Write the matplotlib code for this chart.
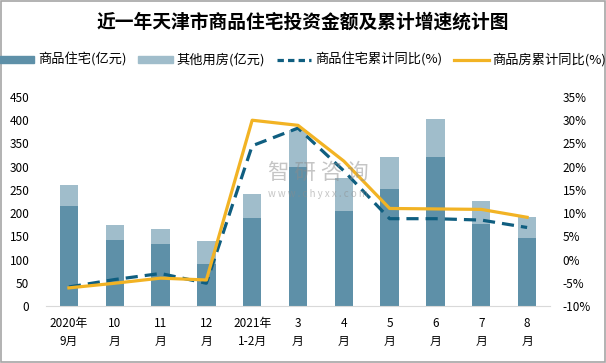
import numpy as np
import matplotlib
matplotlib.use('Agg')
import matplotlib.pyplot as plt
from matplotlib.patches import Rectangle
from matplotlib.lines import Line2D
from matplotlib.patches import Patch

plt.rcParams['font.family'] = ['Noto Sans CJK SC', 'DejaVu Sans']

months = ['2020年\n9月', '10\n月', '11\n月', '12\n月', '2021年\n1-2月', '3\n月',
          '4\n月', '5\n月', '6\n月', '7\n月', '8\n月']
residential = [216, 142, 134, 91, 190, 300, 205, 252, 321, 177, 146]
other = [44, 33, 32, 49, 51, 78, 70, 68, 82, 49, 46]
res_growth = [-5.9, -4.3, -3.0, -5.1, 24.5, 28.3, 19.1, 8.8, 8.8, 8.5, 6.9]
house_growth = [-6.1, -5.1, -4.0, -4.4, 30.0, 28.9, 21.2, 11.0, 10.9, 10.8, 9.1]

dark = '#5E90A8'
light = '#A0BDCB'
navy = '#0F5E80'
gold = '#F2B324'

fig = plt.figure(figsize=(6.06, 3.63), dpi=100)
ax = fig.add_axes([46/606, 57/363, 504/606, 209/363])
x = np.arange(len(months))

ax.bar(x, residential, width=0.4, color=dark, zorder=2)
ax.bar(x, other, width=0.4, bottom=residential, color=light, zorder=2)
ax.set_xlim(-0.5, len(months) - 0.5)
ax.set_ylim(0, 450)
ax.set_yticks(range(0, 451, 50))
ax.set_xticks(x)
ax.set_xticklabels(months, linespacing=1.45)
ax.tick_params(axis='x', length=0, pad=8, labelsize=8.5)
ax.tick_params(axis='y', length=0, pad=12, labelsize=8.5)
for s in ['top', 'right', 'left']:
    ax.spines[s].set_visible(False)
ax.spines['bottom'].set_color('#D9D9D9')

ax2 = ax.twinx()
ax2.plot(x, res_growth, color=navy, lw=2.3, ls=(0, (3.8, 2.2)), zorder=3)
ax2.plot(x, house_growth, color=gold, lw=2.3, zorder=3)
ax2.set_ylim(-10, 35)
ax2.set_yticks(range(-10, 36, 5))
ax2.set_yticklabels([f'{v}%' for v in range(-10, 36, 5)])
ax2.tick_params(axis='y', length=0, pad=9, labelsize=8.5)
for s in ['top', 'right', 'left', 'bottom']:
    ax2.spines[s].set_visible(False)

# watermark
fig.text(318/606, 1 - 173/363, '智 研 咨 询', fontsize=15.5, color='#8C8C8C', alpha=0.5,
         ha='center', va='center', zorder=5)
fig.text(318/606, 1 - 194/363, 'w w w . c h y x x . c o m', fontsize=7, color='#8C8C8C',
         alpha=0.5, ha='center', va='center', zorder=5)

fig.text(0.5, 1 - 22/363, '近一年天津市商品住宅投资金额及累计增速统计图', fontsize=13.5,
         fontweight='bold', ha='center', va='center')

handles = [Patch(color=dark), Patch(color=light),
           Line2D([], [], color=navy, lw=2.3, ls=(0, (2, 1.3))),
           Line2D([], [], color=gold, lw=2.3)]
labels = ['商品住宅(亿元)', '其他用房(亿元)', '商品住宅累计同比(%)', '商品房累计同比(%)']
fig.legend(handles, labels, loc='center', bbox_to_anchor=(0.5, 1 - 60/363), ncol=4,
           frameon=False, fontsize=9.5, handlelength=2.6, handleheight=0.5,
           handletextpad=0.3, columnspacing=0.9)

fig.patches.append(Rectangle((0.001, 0.002), 0.997, 0.995, transform=fig.transFigure,
                             fill=False, edgecolor='#A6A6A6', lw=1.2))

fig.savefig('out.png', dpi=100)
